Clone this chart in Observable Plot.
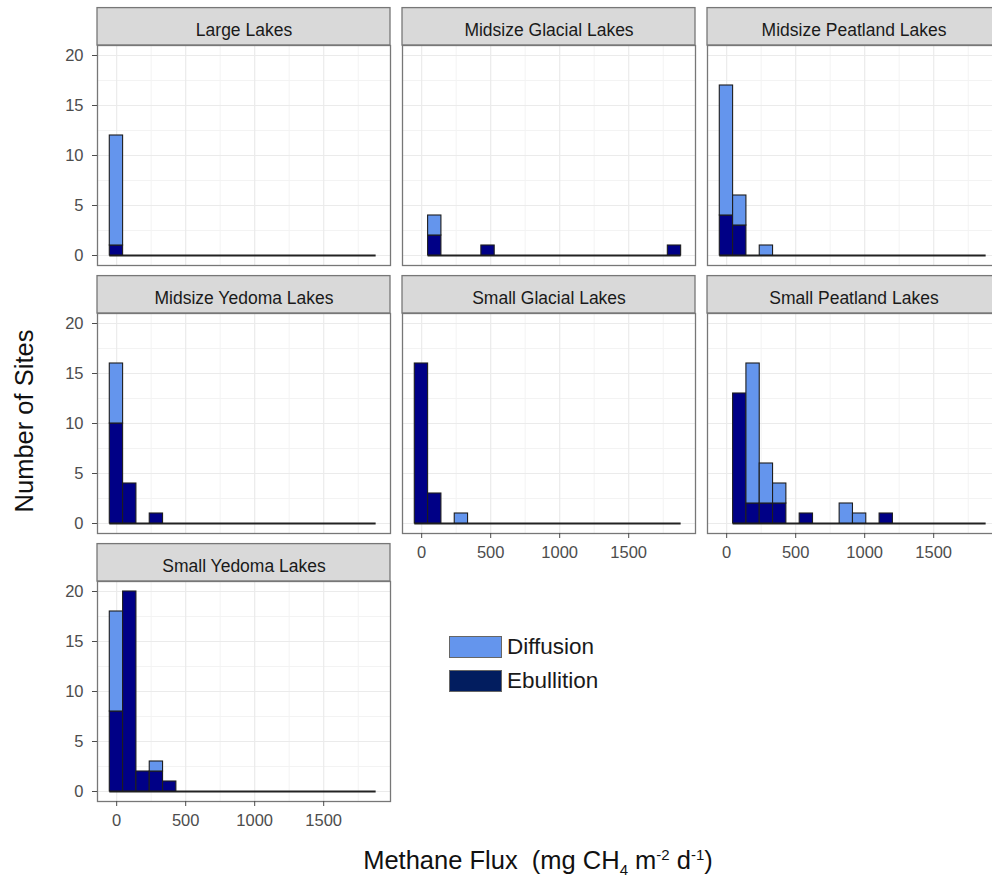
<!DOCTYPE html>
<html>
<head>
<meta charset="utf-8">
<script src="https://cdn.jsdelivr.net/npm/d3@7"></script>
<script src="https://cdn.jsdelivr.net/npm/@observablehq/plot@0.6"></script>
<style>
  html, body { margin: 0; padding: 0; background: #fff; overflow: hidden; }
  #wrap { position: relative; width: 992px; height: 880px; overflow: hidden;
          font-family: "Liberation Sans", Arial, Helvetica, sans-serif; }
  #chart { position: absolute; left: 0; top: 0; width: 1000px; }
  #chart svg { max-width: none !important; }
  .ytitle { position: absolute; left: 25px; top: 421px; transform: translate(-50%, -50%) rotate(-90deg);
            font-size: 25.5px; line-height: 1; color: #111; white-space: nowrap; }
  .xtitle { position: absolute; left: 538px; top: 861px; transform: translate(-50%, -50%);
            font-size: 25.5px; line-height: 1; color: #111; white-space: nowrap; }
  .xtitle sub, .xtitle sup { font-size: 15px; line-height: 0; }
  .legend { position: absolute; left: 449px; top: 636px; font-size: 22.5px; color: #1a1a1a; }
  .legend .row { display: flex; align-items: center; height: 22px; margin-bottom: 12px; }
  .legend .sw { width: 53px; height: 22px; border: 1px solid #666; margin-right: 5px; box-sizing: border-box; }
</style>
</head>
<body>
<div id="wrap">
  <div id="chart"></div>
  <div class="ytitle">Number of Sites</div>
  <div class="xtitle">Methane Flux&nbsp; (mg CH<sub>4</sub> m<sup>-2</sup> d<sup>-1</sup>)</div>
  <div class="legend" id="legend"></div>
</div>
<script>
// ---- data ----
const panels = ["Large Lakes", "Midsize Glacial Lakes", "Midsize Peatland Lakes",
                "Midsize Yedoma Lakes", "Small Glacial Lakes", "Small Peatland Lakes",
                "Small Yedoma Lakes"];
const types = ["Ebullition", "Diffusion"];
const binStart = -50;     // left edge of first bin (mg CH4 m-2 d-1)
const binWidth = 96.5;    // bin width
const xTicks = [0, 500, 1000, 1500];
const xMinor = [250, 750, 1250, 1750];
const yTicks = [0, 5, 10, 15, 20];
const yMinor = [2.5, 7.5, 12.5, 17.5];

// counts per bin (20 bins)
const largeEbullition           = [1,0,0,0,0,0,0,0,0,0,0,0,0,0,0,0,0,0,0,0];
const largeDiffusion            = [11,0,0,0,0,0,0,0,0,0,0,0,0,0,0,0,0,0,0,0];
const midGlacialEbullition      = [0,2,0,0,0,1,0,0,0,0,0,0,0,0,0,0,0,0,0,1];
const midGlacialDiffusion       = [0,2,0,0,0,0,0,0,0,0,0,0,0,0,0,0,0,0,0,0];
const midPeatlandEbullition     = [4,3,0,0,0,0,0,0,0,0,0,0,0,0,0,0,0,0,0,0];
const midPeatlandDiffusion      = [13,3,0,1,0,0,0,0,0,0,0,0,0,0,0,0,0,0,0,0];
const midYedomaEbullition       = [10,4,0,1,0,0,0,0,0,0,0,0,0,0,0,0,0,0,0,0];
const midYedomaDiffusion        = [6,0,0,0,0,0,0,0,0,0,0,0,0,0,0,0,0,0,0,0];
const smallGlacialEbullition    = [16,3,0,0,0,0,0,0,0,0,0,0,0,0,0,0,0,0,0,0];
const smallGlacialDiffusion     = [0,0,0,1,0,0,0,0,0,0,0,0,0,0,0,0,0,0,0,0];
const smallPeatlandEbullition   = [0,13,2,2,2,0,1,0,0,0,0,0,1,0,0,0,0,0,0,0];
const smallPeatlandDiffusion    = [0,0,14,4,2,0,0,0,0,2,1,0,0,0,0,0,0,0,0,0];
const smallYedomaEbullition     = [8,20,2,2,1,0,0,0,0,0,0,0,0,0,0,0,0,0,0,0];
const smallYedomaDiffusion      = [10,0,0,1,0,0,0,0,0,0,0,0,0,0,0,0,0,0,0,0];

const ebullitionSeries = [largeEbullition, midGlacialEbullition, midPeatlandEbullition,
  midYedomaEbullition, smallGlacialEbullition, smallPeatlandEbullition, smallYedomaEbullition];
const diffusionSeries = [largeDiffusion, midGlacialDiffusion, midPeatlandDiffusion,
  midYedomaDiffusion, smallGlacialDiffusion, smallPeatlandDiffusion, smallYedomaDiffusion];

// ---- build tables ----
const cols = ["c1", "c2", "c3"];
const rows = ["r1", "r2", "r3"];
const panelRows = panels.map((name, i) => ({name, col: cols[i % 3], row: rows[Math.floor(i / 3)]}));

const bars = [];
const baselines = [];
panelRows.forEach((p, i) => {
  const eb = ebullitionSeries[i], di = diffusionSeries[i];
  let first = -1;
  eb.forEach((e, k) => {
    const d = di[k];
    const x1 = binStart + k * binWidth, x2 = x1 + binWidth;
    if (e + d > 0 && first < 0) first = k;
    if (e > 0) bars.push({col: p.col, row: p.row, type: "Ebullition", x1, x2, y1: 0, y2: e});
    if (d > 0) bars.push({col: p.col, row: p.row, type: "Diffusion", x1, x2, y1: e, y2: e + d});
  });
  baselines.push({col: p.col, row: p.row,
                  x1: binStart + first * binWidth,
                  x2: binStart + eb.length * binWidth});
});

const fillColors = {Ebullition: "#000086", Diffusion: "#6495ED"};
const legendColors = {Diffusion: "#6495ED", Ebullition: "#021d5f"};
const STRIP = 3.74; // strip height in y units (~37.5px)
const grid = "#ebebeb";
const xDomain = [-139, 1984];

const chart = Plot.plot({
  width: 1000,
  height: 880,
  marginLeft: 96,
  marginRight: 0,
  marginTop: 44,
  marginBottom: 78,
  style: {fontFamily: "'Liberation Sans', Arial, Helvetica, sans-serif", fontSize: "16.5px",
          background: "white", overflow: "visible", maxWidth: "none"},
  x: {domain: xDomain, label: null},
  y: {domain: [-1, 21], label: null},
  fx: {domain: cols, paddingInner: 0.04, paddingOuter: 0, axis: null, label: null},
  fy: {domain: rows, paddingInner: 0.1795, paddingOuter: 0, axis: null, label: null},
  marks: [
    Plot.gridX({ticks: xMinor, stroke: "#f3f3f3", strokeOpacity: 1, strokeWidth: 1}),
    Plot.gridY({ticks: yMinor, stroke: "#f3f3f3", strokeOpacity: 1, strokeWidth: 1}),
    Plot.gridX({ticks: xTicks, stroke: grid, strokeOpacity: 1, strokeWidth: 1.2}),
    Plot.gridY({ticks: yTicks, stroke: grid, strokeOpacity: 1, strokeWidth: 1.2}),
    Plot.ruleY(baselines, {fx: "col", fy: "row", y: 0, x1: "x1", x2: "x2", stroke: "#222", strokeWidth: 1.8}),
    Plot.rectY(bars, {fx: "col", fy: "row", x1: "x1", x2: "x2", y1: "y1", y2: "y2",
      fill: d => fillColors[d.type], stroke: "#1e1e1e", strokeWidth: 1.1}),
    Plot.rect(panelRows, {fx: "col", fy: "row", x1: xDomain[0], x2: xDomain[1], y1: 21, y2: 21 + STRIP,
      fill: "#d9d9d9", stroke: "#777", strokeWidth: 1.3}),
    Plot.text(panelRows, {fx: "col", fy: "row", text: "name", frameAnchor: "top", lineAnchor: "middle",
      dy: -15.5, fontSize: 17.5, fill: "#1a1a1a"}),
    Plot.frame({stroke: "#777", strokeWidth: 1.3}),
    Plot.axisY({anchor: "left", ticks: yTicks, tickFormat: "d", tickSize: 5, tickPadding: 9,
      fontSize: 16.5, color: "#4d4d4d", label: null}),
    Plot.axisX({anchor: "bottom", facetAnchor: "bottom-empty", ticks: xTicks, tickFormat: "d",
      tickSize: 5, tickPadding: 8, fontSize: 16.5, color: "#4d4d4d", label: null})
  ]
});
document.getElementById("chart").appendChild(chart);

// legend
const legend = document.getElementById("legend");
["Diffusion", "Ebullition"].forEach(t => {
  const row = document.createElement("div");
  row.className = "row";
  const sw = document.createElement("div");
  sw.className = "sw";
  sw.style.background = legendColors[t];
  const lab = document.createElement("span");
  lab.textContent = t;
  row.appendChild(sw);
  row.appendChild(lab);
  legend.appendChild(row);
});
</script>
</body>
</html>
